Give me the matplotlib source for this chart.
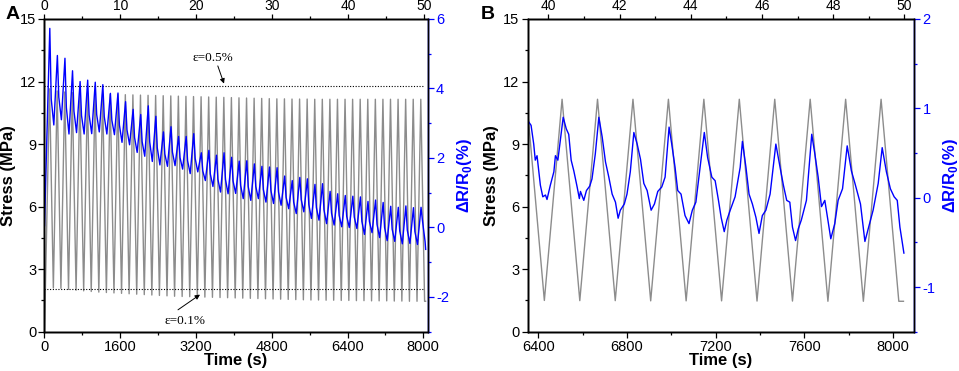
#!/usr/bin/env python3
"""Cyclic stress and resistance change: full run (A) and last ten cycles (B)."""

import matplotlib
matplotlib.use("Agg")
import matplotlib.pyplot as plt
from matplotlib.ticker import MultipleLocator
import numpy as np

plt.rcParams["font.family"] = ["Liberation Sans", "DejaVu Sans"]
plt.rcParams["mathtext.fontset"] = "custom"
plt.rcParams["mathtext.rm"] = "Liberation Sans"
plt.rcParams["mathtext.bf"] = "Liberation Sans:bold"
plt.rcParams["axes.unicode_minus"] = False

# loading cycles: 160 s period, first stress peak at 107 s
PERIOD_S = 160
FIRST_PEAK_S = 107
STRESS_END_S = 8048

# stress (MPa) at each peak / following valley
STRESS_PEAK = [11.65, 11.55, 11.50, 11.47, 11.45, 11.43, 11.41, 11.40, 11.39, 11.38,
               11.37, 11.36, 11.35, 11.34, 11.33, 11.32, 11.31, 11.30, 11.29, 11.28,
               11.27, 11.26, 11.25, 11.24, 11.23, 11.22, 11.21, 11.20, 11.19, 11.18,
               11.17, 11.17, 11.16, 11.16, 11.16, 11.15, 11.15, 11.15, 11.15, 11.15,
               11.15, 11.15, 11.15, 11.15, 11.15, 11.15, 11.15, 11.15, 11.15, 11.15]
STRESS_VALLEY = [2.10, 2.08, 2.03, 1.99, 1.96, 1.93, 1.90, 1.88, 1.86, 1.84,
                 1.82, 1.80, 1.78, 1.76, 1.74, 1.72, 1.70, 1.69, 1.68, 1.67,
                 1.66, 1.65, 1.64, 1.63, 1.62, 1.61, 1.60, 1.59, 1.58, 1.57,
                 1.56, 1.55, 1.54, 1.53, 1.52, 1.52, 1.51, 1.51, 1.50, 1.50,
                 1.49, 1.49, 1.48, 1.48, 1.48, 1.47, 1.47, 1.46, 1.46, 1.46]

# dR/R0 (%) per cycle in panel A: peak, shoulder after drop, trough
DR_START = 0.05
DR_END = -0.63
DR_PEAK = [5.73, 4.95, 4.87, 4.51, 4.20, 4.24, 4.18, 4.11, 3.86, 3.87,
           3.62, 3.40, 3.25, 3.50, 3.20, 2.75, 2.90, 2.62, 2.62, 2.70,
           2.15, 2.22, 2.08, 2.15, 2.02, 1.91, 1.92, 1.83, 1.76, 1.74,
           1.72, 1.48, 1.35, 1.44, 1.40, 1.24, 1.26, 1.04, 0.97, 0.92,
           0.90, 0.88, 0.75, 0.79, 0.72, 0.61, 0.58, 0.62, 0.57, 0.58]
DR_SHOULDER = [3.70, 3.75, 3.45, 3.35, 3.22, 3.24, 3.25, 3.19, 3.09, 2.95,
               2.81, 2.59, 2.47, 2.46, 2.29, 2.11, 2.17, 2.01, 1.92, 1.99,
               1.63, 1.54, 1.39, 1.38, 1.34, 1.21, 1.18, 1.18, 1.09, 1.06,
               1.02, 0.87, 0.73, 0.80, 0.66, 0.57, 0.51, 0.41, 0.35, 0.32,
               0.30, 0.18, 0.17, 0.09, 0.00, -0.05, -0.10, -0.08, -0.12, 0.20]
DR_TROUGH = [2.95, 3.10, 2.69, 2.73, 2.69, 2.70, 2.75, 2.69, 2.67, 2.45,
             2.38, 2.16, 2.05, 1.90, 1.80, 1.76, 1.78, 1.68, 1.55, 1.60,
             1.35, 1.18, 1.02, 0.97, 0.98, 0.83, 0.78, 0.83, 0.73, 0.69,
             0.64, 0.54, 0.40, 0.45, 0.26, 0.21, 0.11, 0.07, 0.02, 0.00,
             -0.03, -0.20, -0.15, -0.29, -0.38, -0.40, -0.47, -0.46, -0.49, -0.40]

# detailed dR/R0 trace for panel B
DR_B_TIME = [6353, 6367, 6379, 6386, 6394, 6409, 6420, 6432, 6439, 6454,
             6470, 6477, 6488, 6499, 6512, 6526, 6537, 6548, 6560, 6575,
             6585, 6590, 6605, 6617, 6632, 6642, 6657, 6673, 6688, 6703,
             6718, 6733, 6748, 6760, 6770, 6788, 6800, 6815, 6831, 6846,
             6861, 6876, 6891, 6909, 6924, 6939, 6957, 6972, 6990, 7002,
             7017, 7029, 7044, 7062, 7080, 7095, 7111, 7130, 7149, 7164,
             7183, 7198, 7213, 7225, 7239, 7251, 7266, 7288, 7311, 7321,
             7337, 7351, 7366, 7382, 7396, 7411, 7427, 7446, 7472, 7491,
             7506, 7521, 7535, 7547, 7561, 7573, 7587, 7610, 7634, 7648,
             7663, 7678, 7693, 7705, 7720, 7738, 7753, 7773, 7794, 7813,
             7829, 7854, 7874, 7893, 7911, 7934, 7952, 7971, 7989, 8006,
             8020, 8032, 8042, 8050]
DR_B_VALUE = [0.86, 0.81, 0.60, 0.42, 0.47, 0.14, 0.01, 0.03, -0.02, 0.14,
              0.29, 0.47, 0.42, 0.64, 0.90, 0.77, 0.71, 0.42, 0.30, 0.12,
              -0.01, 0.07, -0.03, 0.08, 0.13, 0.21, 0.49, 0.90, 0.68, 0.40,
              0.23, 0.04, -0.05, -0.23, -0.14, -0.07, 0.04, 0.29, 0.73, 0.60,
              0.43, 0.16, 0.08, -0.14, -0.07, 0.07, 0.12, 0.23, 0.79, 0.60,
              0.34, 0.08, 0.04, -0.20, -0.29, -0.14, -0.05, 0.34, 0.73, 0.45,
              0.23, 0.19, -0.03, -0.22, -0.38, -0.25, -0.14, 0.01, 0.34, 0.63,
              0.34, 0.04, -0.07, -0.22, -0.40, -0.20, -0.14, 0.04, 0.60, 0.34,
              0.14, -0.03, -0.05, -0.33, -0.48, -0.35, -0.25, -0.03, 0.71, 0.49,
              0.23, -0.10, -0.03, -0.22, -0.46, -0.29, -0.03, 0.10, 0.58, 0.30,
              0.16, -0.07, -0.49, -0.31, -0.14, 0.16, 0.56, 0.29, 0.10, 0.01,
              -0.03, -0.33, -0.49, -0.62]

# strain reference levels (MPa)
STRAIN_LEVELS = {"ε=0.5%": 11.8, "ε=0.1%": 2.05}

GREY = "#8c8c8c"
BLUE = "#0000ff"
DR_LABEL = r"ΔR/R$_{\mathbf{0}}$(%)"


def _stress_series():
    peak_t = FIRST_PEAK_S + PERIOD_S * np.arange(len(STRESS_PEAK))
    valley_t = peak_t + PERIOD_S / 2
    t, v = [0.0], [0.0]
    for pt, pv, vt, vv in zip(peak_t, STRESS_PEAK, valley_t, STRESS_VALLEY):
        t += [pt, vt]
        v += [pv, vv]
    t.append(STRESS_END_S)
    v.append(STRESS_VALLEY[-1])
    return np.array(t), np.array(v)


def _resistance_series():
    peak_t = FIRST_PEAK_S + 5 + PERIOD_S * np.arange(len(DR_PEAK))
    t, v = [0.0], [DR_START]
    for pt, p, s, tr in zip(peak_t, DR_PEAK, DR_SHOULDER, DR_TROUGH):
        t += [pt, pt + 30, pt + 85]
        v += [p, s, tr]
    t.append(8050)
    v.append(DR_END)
    return np.array(t), np.array(v)


def _style_axes(ax, axr, axt, right_pad):
    for a in (ax, axr, axt):
        for sp in a.spines.values():
            sp.set_linewidth(1.0)
    axr.spines["right"].set_color(BLUE)
    for a in (ax, axr, axt):
        a.tick_params(which="major", direction="out", length=4, width=0.9,
                      labelsize=10.5, pad=2)
        a.tick_params(which="minor", direction="out", length=2.5, width=0.9)
    axr.tick_params(axis="y", which="both", colors=BLUE)
    axt.tick_params(axis="x", which="major", length=3.5, pad=0.5, labelsize=10)
    ax.set_ylim(0, 15)
    ax.yaxis.set_major_locator(MultipleLocator(3))
    ax.yaxis.set_minor_locator(MultipleLocator(1.5))
    ax.set_ylabel("Stress (MPa)", fontsize=12, fontweight="bold", labelpad=3)
    ax.set_xlabel("Time (s)", fontsize=12, fontweight="bold", labelpad=-1)
    axr.set_ylabel(DR_LABEL, fontsize=12, fontweight="bold", color=BLUE,
                   labelpad=right_pad)


def main():
    fig = plt.figure(figsize=(9.59, 3.71), dpi=100)
    st, sv = _stress_series()
    rt, rv = _resistance_series()

    # ---- panel A
    ax = fig.add_axes([0.0464, 0.1059, 0.3996, 0.8429])
    ax.plot(st, sv, color=GREY, lw=1.0)
    ax.set_xlim(0, 8093)
    ax.xaxis.set_major_locator(MultipleLocator(1600))
    ax.xaxis.set_minor_locator(MultipleLocator(800))
    for level in STRAIN_LEVELS.values():
        ax.plot([0, 7990], [level, level], color="black", lw=0.8, ls=(0, (1, 1.5)))
    ax.text(3559, 13.13, "ε=0.5%", family="Liberation Serif", fontsize=9.5,
            ha="center", va="center")
    ax.annotate("", xy=(3791, 11.9), xytext=(3660, 12.75),
                arrowprops=dict(arrowstyle="-|>", color="black", lw=0.7,
                                mutation_scale=7, shrinkA=0, shrinkB=0))
    ax.text(2967, 0.51, "ε=0.1%", family="Liberation Serif", fontsize=9.5,
            ha="center", va="center")
    ax.annotate("", xy=(3284, 1.78), xytext=(2819, 1.05),
                arrowprops=dict(arrowstyle="-|>", color="black", lw=0.7,
                                mutation_scale=7, shrinkA=0, shrinkB=0))

    axr = ax.twinx()
    axr.plot(rt, rv, color=BLUE, lw=1.0)
    axr.set_ylim(-3, 6)
    axr.yaxis.set_major_locator(MultipleLocator(2))
    axr.yaxis.set_minor_locator(MultipleLocator(1))

    axt = ax.twiny()
    axt.set_xlim(0, 50.49)
    axt.xaxis.set_major_locator(MultipleLocator(10))
    axt.xaxis.set_minor_locator(MultipleLocator(5))
    _style_axes(ax, axr, axt, right_pad=4)
    fig.text(0.013, 0.962, "A", fontsize=14, fontweight="bold", ha="center", va="center")

    # ---- panel B
    bx = fig.add_axes([0.5503, 0.1059, 0.4031, 0.8429])
    bx.plot(st, sv, color=GREY, lw=1.0)
    bx.set_xlim(6352, 8097)
    bx.xaxis.set_major_locator(MultipleLocator(400))
    bx.xaxis.set_minor_locator(MultipleLocator(200))

    bxr = bx.twinx()
    bxr.plot(DR_B_TIME, DR_B_VALUE, color=BLUE, lw=1.0)
    bxr.set_ylim(-1.5, 2)
    bxr.yaxis.set_major_locator(MultipleLocator(1))
    bxr.yaxis.set_minor_locator(MultipleLocator(0.5))

    bxt = bx.twiny()
    bxt.set_xlim(39.42, 50.28)
    bxt.xaxis.set_major_locator(MultipleLocator(2))
    bxt.xaxis.set_minor_locator(MultipleLocator(1))
    _style_axes(bx, bxr, bxt, right_pad=4)
    fig.text(0.509, 0.962, "B", fontsize=14, fontweight="bold", ha="center", va="center")

    fig.savefig("out.png", dpi=100)
    plt.close(fig)


if __name__ == "__main__":
    main()
